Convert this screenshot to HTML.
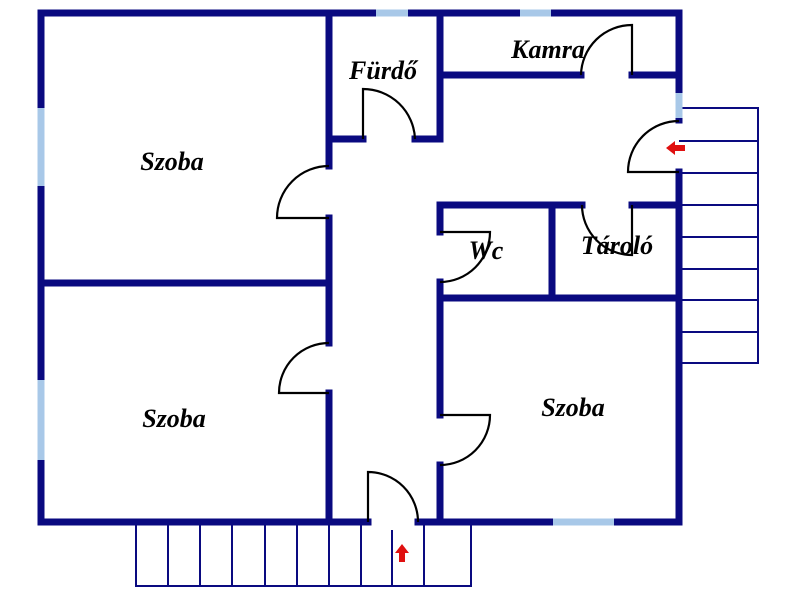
<!DOCTYPE html>
<html><head><meta charset="utf-8"><style>body{margin:0;background:#fff}svg{display:block}text{font-family:"Liberation Serif",serif;font-style:italic;font-weight:bold;font-size:26px;fill:#000;text-anchor:middle}</style></head>
<body>
<svg width="800" height="600" viewBox="0 0 800 600" xmlns="http://www.w3.org/2000/svg">
<g stroke="#0a0a80" stroke-width="2" fill="none">
<polyline points="679,108 758,108 758,363 679,363"/>
<line x1="679" y1="141" x2="758" y2="141"/><line x1="679" y1="173" x2="758" y2="173"/>
<line x1="679" y1="205" x2="758" y2="205"/><line x1="679" y1="237" x2="758" y2="237"/>
<line x1="679" y1="269" x2="758" y2="269"/><line x1="679" y1="300" x2="758" y2="300"/>
<line x1="679" y1="332" x2="758" y2="332"/>
<polyline points="136,522 136,586 471,586 471,522"/>
<line x1="168" y1="522" x2="168" y2="586"/><line x1="200" y1="522" x2="200" y2="586"/>
<line x1="232" y1="522" x2="232" y2="586"/><line x1="265" y1="522" x2="265" y2="586"/>
<line x1="297" y1="522" x2="297" y2="586"/><line x1="329" y1="522" x2="329" y2="586"/>
<line x1="361" y1="522" x2="361" y2="586"/><line x1="392" y1="530" x2="392" y2="586"/>
<line x1="424" y1="522" x2="424" y2="586"/>
</g>
<g stroke="#0a0a80" stroke-width="7" fill="none" stroke-linecap="square">
<line x1="41" y1="13" x2="679" y2="13"/>
<line x1="41" y1="13" x2="41" y2="522"/>
<line x1="679" y1="13" x2="679" y2="120"/>
<line x1="679" y1="172" x2="679" y2="522"/>
<line x1="41" y1="522" x2="368" y2="522"/>
<line x1="418" y1="522" x2="679" y2="522"/>
<line x1="329" y1="13" x2="329" y2="166"/>
<line x1="329" y1="218" x2="329" y2="343"/>
<line x1="329" y1="393" x2="329" y2="522"/>
<line x1="41" y1="283" x2="329" y2="283"/>
<line x1="329" y1="139" x2="363" y2="139"/>
<line x1="415" y1="139" x2="440" y2="139"/>
<line x1="440" y1="13" x2="440" y2="139"/>
<line x1="440" y1="75" x2="581" y2="75"/>
<line x1="632" y1="75" x2="679" y2="75"/>
<line x1="440" y1="205" x2="582" y2="205"/>
<line x1="632" y1="205" x2="679" y2="205"/>
<line x1="440" y1="205" x2="440" y2="232"/>
<line x1="440" y1="282" x2="440" y2="415"/>
<line x1="440" y1="465" x2="440" y2="522"/>
<line x1="552" y1="205" x2="552" y2="298"/>
<line x1="440" y1="298" x2="679" y2="298"/>
</g>
<g stroke="#a8c8e8" stroke-width="7">
<line x1="376" y1="13" x2="408" y2="13"/><line x1="520" y1="13" x2="551" y2="13"/>
<line x1="41" y1="108" x2="41" y2="186"/><line x1="41" y1="380" x2="41" y2="460"/>
<line x1="679" y1="93" x2="679" y2="118"/><line x1="553" y1="522" x2="614" y2="522"/>
</g>
<g stroke="#000" stroke-width="2.2" fill="none">
<path d="M329,218 H277 A52,52 0 0 1 329,166"/>
<path d="M329,393 H279 A50,50 0 0 1 329,343"/>
<path d="M363,139 V89 A52,52 0 0 1 415,139"/>
<path d="M632,75 V25 A51,51 0 0 0 581,75"/>
<path d="M679,172 H628 A51,51 0 0 1 679,121"/>
<path d="M632,205 V255 A50,50 0 0 1 582,205"/>
<path d="M440,232 H490 A50,50 0 0 1 440,282"/>
<path d="M440,415 H490 A50,50 0 0 1 440,465"/>
<path d="M368,522 V472 A50,50 0 0 1 418,522"/>
</g>
<g fill="#e01010">
<polygon points="666,148 675,141 675,145 685,145 685,151 675,151 675,155"/>
<polygon points="402,544 409,553 405,553 405,562 399,562 399,553 395,553"/>
</g>
<text x="172" y="170">Szoba</text>
<text x="383" y="79">Fürdő</text>
<text x="548" y="58">Kamra</text>
<text x="486" y="259">Wc</text>
<text x="617" y="254">Tároló</text>
<text x="174" y="427">Szoba</text>
<text x="573" y="416">Szoba</text>
</svg>
</body></html>
